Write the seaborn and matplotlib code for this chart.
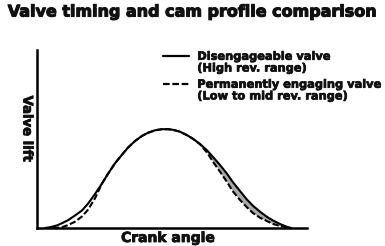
import numpy as np
import pandas as pd
import matplotlib
matplotlib.use("Agg")
import matplotlib.pyplot as plt
from matplotlib.lines import Line2D
import matplotlib.patheffects as pe
import seaborn as sns

# ---- data ----
crank = [8, 12, 16, 20, 25, 31, 38, 45, 51, 58, 65, 71, 78, 85, 91, 98, 105, 111, 118,
         125, 131, 136, 143, 150, 156, 163, 170, 176, 183, 190, 196, 203, 210, 216,
         223, 230, 236, 243, 250, 254]
lift_disengageable = [0, 0.6, 1.5, 2.6, 4.8, 7.8, 12.5, 17.5, 24.3, 34, 44.5, 54.2, 64.7,
                      73.3, 80.4, 87, 92.1, 95.2, 97.7, 98.8, 98.8, 98.2, 96.3, 92.8, 89.2,
                      84, 77.7, 71, 63, 54.3, 45.7, 37, 28.4, 22.2, 16.3, 11.1, 7.5, 4,
                      1.2, 0]
lift_permanent = [np.nan, np.nan, 0, 0.3, 0.8, 2.9, 6.3, 11.5, 18.3, 29.7, 44.5, 54.2, 64.7,
                  73.3, 80.4, 87, 92.1, 95.2, 97.7, 98.8, 98.8, 98.2, 96.3, 92.8, 89.2,
                  83.7, 75.5, 66.3, 56.3, 46, 36.5, 28, 20.6, 14.9, 10.3, 6.9, 4.1, 2,
                  0.7, 0]

title = "Valve timing and cam profile comparison"
label_disengageable = ["Disengageable valve", "(High rev. range)"]
label_permanent = ["Permanently engaging valve", "(Low to mid rev. range)"]
xlabel = "Crank angle"
ylabel = "Valve lift"

sns.set_theme(style="white")
plt.rcParams["font.family"] = ["DejaVu Sans"]

INK = "#111111"


def heavy(w):
    return [pe.withStroke(linewidth=w, foreground=INK)]


fig = plt.figure(figsize=(3.85, 2.46), dpi=100)
ax = fig.add_axes([37 / 385, 18 / 246, 270 / 385, 178 / 246])

cr = np.array(crank, dtype=float)
ld = np.array(lift_disengageable, dtype=float)
lp = np.array(lift_permanent, dtype=float)
ax.fill_between(cr, lp, ld, where=cr >= 160, color="#a9a9a9", lw=0, interpolate=True)

dash = (0, (3, 1.2))
sns.lineplot(x=cr, y=ld, ax=ax, color="black", lw=1.5, clip_on=False)
sns.lineplot(x=cr, y=lp, ax=ax, color="black", lw=1.5, linestyle=dash, clip_on=False)

ax.set_xlim(0, 270)
ax.set_ylim(0, 178)
ax.set_xticks([])
ax.set_yticks([])
for s in ["top", "right"]:
    ax.spines[s].set_visible(False)
for s in ["left", "bottom"]:
    ax.spines[s].set_color("black")
    ax.spines[s].set_linewidth(1.8)

ax.set_xlabel("")
ax.set_ylabel("")
fig.text(168 / 385, 1 - 238 / 246, xlabel, ha="center", va="center",
         fontsize=10, fontweight="bold", color=INK, path_effects=heavy(0.6))
fig.text(27 / 385, 1 - 129 / 246, ylabel, ha="center", va="center", rotation=270,
         fontsize=9.5, fontweight="bold", color=INK, path_effects=heavy(0.6))
fig.text(193 / 385, 1 - 12 / 246, title, ha="center", va="center",
         fontsize=11.5, fontweight="bold", color=INK, path_effects=heavy(0.8))

blank = Line2D([], [], color="none")
common = dict(loc="upper left", frameon=False, borderpad=0, borderaxespad=0,
              handlelength=2.25, handletextpad=0.75, labelspacing=0.15,
              prop={"weight": "bold", "size": 8.2})
leg1 = ax.legend([Line2D([], [], color="black", lw=1.6), blank], label_disengageable,
                 bbox_to_anchor=(0.467, 0.99), **common)
ax.add_artist(leg1)
leg2 = ax.legend([Line2D([], [], color="black", lw=1.6, linestyle=dash), blank],
                 label_permanent, bbox_to_anchor=(0.467, 0.833), **common)
for lg in (leg1, leg2):
    for t in lg.get_texts():
        t.set_color(INK)
        t.set_path_effects(heavy(0.5))

fig.savefig("out.png", dpi=100)
